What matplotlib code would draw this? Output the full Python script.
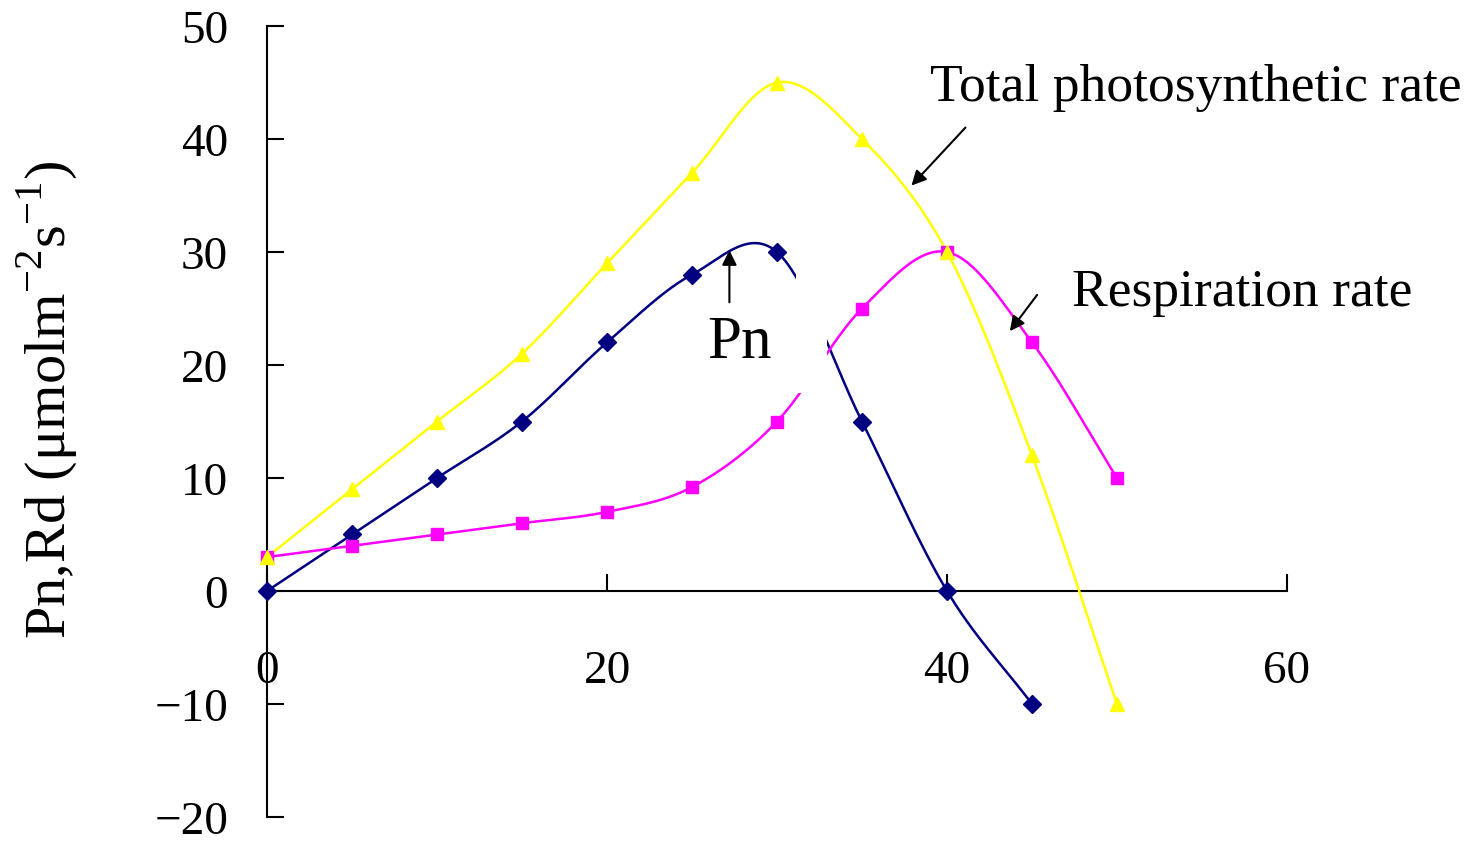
import numpy as np
import matplotlib
matplotlib.use("Agg")
import matplotlib.pyplot as plt
from matplotlib.patches import Rectangle

plt.rcParams['font.family'] = ['Liberation Serif', 'DejaVu Serif']
plt.rcParams['mathtext.fontset'] = 'custom'
plt.rcParams['mathtext.rm'] = 'Liberation Serif'

# data
temp = [0, 5, 10, 15, 20, 25, 30, 35, 40, 45, 50]
pn = [0, 5, 10, 15, 22, 28, 30, 15, 0, -10]
resp = [3, 4, 5, 6, 7, 9.2, 15, 25, 30, 22, 10]
total = [3, 9, 15, 21, 29, 37, 45, 40, 30, 12, -10]

xticks = [0, 20, 40, 60]
yticks = [-20, -10, 0, 10, 20, 30, 40, 50]


def smooth(x, y, n=30):
    # catmull-rom, close to excel's smoothed line
    x = np.asarray(x, float)
    y = np.asarray(y, float)
    P = np.column_stack([x, y])
    P = np.vstack([2 * P[0] - P[1], P, 2 * P[-1] - P[-2]])
    out = []
    t = np.linspace(0, 1, n)[:, None]
    for i in range(1, len(P) - 2):
        p0, p1, p2, p3 = P[i - 1], P[i], P[i + 1], P[i + 2]
        c1 = p1 + (p2 - p0) / 6
        c2 = p2 - (p3 - p1) / 6
        seg = ((1 - t) ** 3 * p1 + 3 * (1 - t) ** 2 * t * c1
               + 3 * (1 - t) * t ** 2 * c2 + t ** 3 * p2)
        out.append(seg if i == 1 else seg[1:])
    s = np.vstack(out)
    return s[:, 0], s[:, 1]


fig = plt.figure(figsize=(14.72, 8.45), dpi=100)
ax = fig.add_axes([0.1814, 0.032, 0.6929, 0.936])

series = [
    (temp[:len(pn)], pn, '#000080', 'D', 9),
    (temp, resp, '#FF00FF', 's', 9),
    (temp, total, '#FFFF00', '^', 10),
]
for xs, ys, col, mk, ms in series:
    sx, sy = smooth(xs, ys)
    ax.plot(sx, sy, color=col, lw=1.8, zorder=2)
    ax.plot(xs, ys, ls='none', marker=mk, ms=ms, color=col,
            markeredgecolor=col, zorder=3, clip_on=False)

# blank patch that hides the crossing of the lines
ax.add_patch(Rectangle((31.1, 17.5), 1.85, 10.5, facecolor='white',
                       edgecolor='none', zorder=2.5))

ax.set_xlim(0, 60)
ax.set_ylim(-20, 50)
ax.spines['right'].set_visible(False)
ax.spines['top'].set_visible(False)
ax.spines['bottom'].set_position(('data', 0))
for sp in ['left', 'bottom']:
    ax.spines[sp].set_linewidth(1.5)
    ax.spines[sp].set_zorder(1)

ax.set_xticks(xticks)
ax.set_yticks(yticks)
ax.set_yticklabels(['\u221220', '\u221210', '0', '10', '20', '30', '40', '50'])
ax.tick_params(axis='both', direction='in', length=12, width=1.5,
               labelsize=34)
ax.tick_params(axis='x', pad=42)
ax.tick_params(axis='y', pad=28)

fig.text(0.032, 0.527, r'Pn,Rd ($\mathregular{\mu}$molm$^{\mathregular{-2}}$s$^{\mathregular{-1}}$)',
         rotation=90, fontsize=42, ha='center', va='center')

arw = dict(arrowstyle='-|>', color='black', lw=1.5, mutation_scale=22)
ax.annotate('', xy=(37.8, 35.7), xytext=(41.2, 41.2), arrowprops=arw)
ax.annotate('', xy=(43.6, 22.8), xytext=(45.4, 26.4), arrowprops=arw)
ax.annotate('', xy=(27.2, 30.4), xytext=(27.2, 25.3), arrowprops=arw)

ax.text(39.0, 43.45, 'Total photosynthetic rate', fontsize=38.5, va='baseline')
ax.text(47.35, 25.3, 'Respiration rate', fontsize=38.5, va='baseline')
ax.text(25.9, 20.7, 'Pn', fontsize=44, va='baseline')

fig.savefig('out.png', dpi=100)
